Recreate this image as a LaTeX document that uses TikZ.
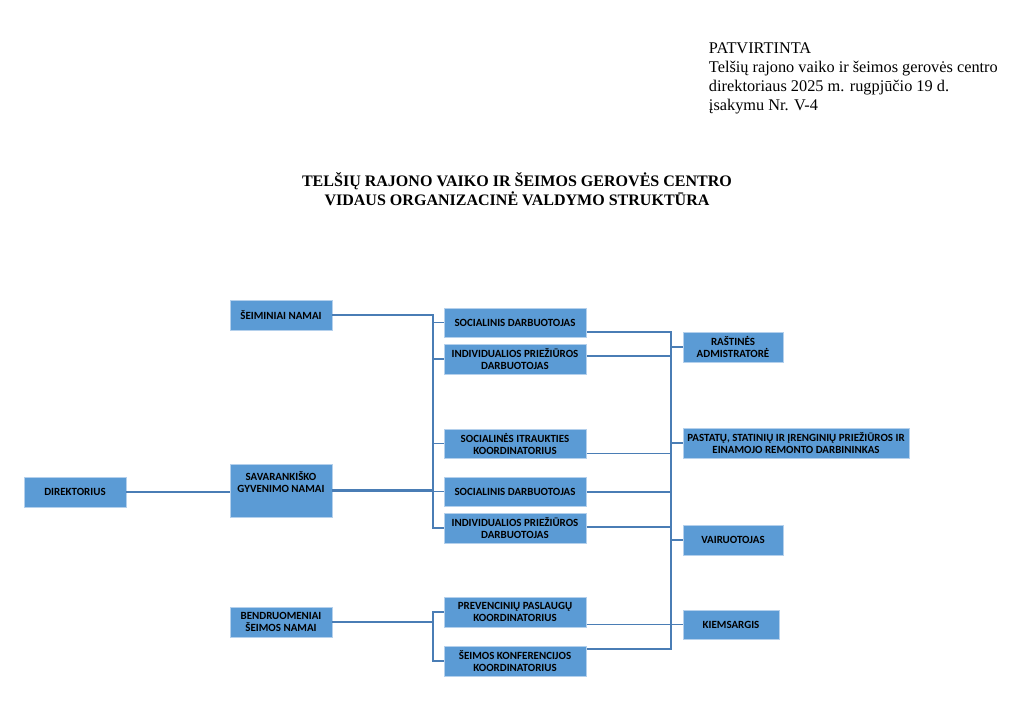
\documentclass[tikz,border=0pt]{standalone}
\usepackage{fontspec}
\setmainfont{Liberation Serif}
\newfontfamily\titlefont{Liberation Serif Bold}
\newfontfamily\boxfont{Carlito Bold}
\usetikzlibrary{calc}
\definecolor{boxblue}{HTML}{5B9BD5}
\definecolor{boxedge}{HTML}{B4D0EC}
\definecolor{linkblue}{HTML}{4A7DB5}
\begin{document}
\begin{tikzpicture}[x=0.025cm, y=-0.025cm,
	unit/.style 2 args={minimum width=#1*0.025cm, minimum height=#2*0.025cm},
	org/.style={draw=boxedge, line width=0.7pt, fill=boxblue, inner sep=0pt,
		align=center, font=\boxfont\fontsize{7.8}{8.6}\selectfont, text=black},
	link/.style={draw=linkblue, line width=1.15pt}]
\useasboundingbox[fill=white] (0,0) rectangle (1024,710);

\node[anchor=north west, align=left, font=\fontsize{11.6}{13.5}\selectfont] (head) at (704,38)
	{PATVIRTINTA\\Telšių rajono vaiko ir šeimos gerovės centro\\direktoriaus 2025 m. rugpjūčio 19 d.\\įsakymu Nr. V-4};
\node[align=center, font=\titlefont\fontsize{11.4}{13.5}\selectfont] (title) at (517,189)
	{TELŠIŲ RAJONO VAIKO IR ŠEIMOS GEROVĖS CENTRO\\VIDAUS ORGANIZACINĖ VALDYMO STRUKTŪRA};

\node[org, unit={102}{30}] (dir) at (75,492) {DIREKTORIUS};
\node[org, unit={102}{30}] (seim) at (281,315) {ŠEIMINIAI NAMAI};
\node[org, unit={102}{53}] (sav) at (281,490.5) {SAVARANKIŠKO\\GYVENIMO NAMAI\\[3.4pt]};
\node[org, unit={102}{30}] (bend) at (281,622) {BENDRUOMENIAI\\ŠEIMOS NAMAI};

\node[org, unit={142}{29}] (soc1) at (515,322.5) {SOCIALINIS DARBUOTOJAS};
\node[org, unit={142}{30}] (ind1) at (515,359) {INDIVIDUALIOS PRIEŽIŪROS\\DARBUOTOJAS};
\node[org, unit={142}{29}] (itr) at (515,443.5) {SOCIALINĖS ITRAUKTIES\\KOORDINATORIUS};
\node[org, unit={142}{29}] (soc2) at (515,491.5) {SOCIALINIS DARBUOTOJAS};
\node[org, unit={142}{30}] (ind2) at (515,528) {INDIVIDUALIOS PRIEŽIŪROS\\DARBUOTOJAS};
\node[org, unit={142}{30}] (prev) at (515,612) {PREVENCINIŲ PASLAUGŲ\\KOORDINATORIUS};
\node[org, unit={142}{30}] (konf) at (515,661) {ŠEIMOS KONFERENCIJOS\\KOORDINATORIUS};

\node[org, unit={100}{30}] (rast) at (733,347) {RAŠTINĖS\\ADMISTRATORĖ};
\node[org, unit={226}{30}] (past) at (796,443) {PASTATŲ, STATINIŲ IR ĮRENGINIŲ PRIEŽIŪROS IR\\EINAMOJO REMONTO DARBININKAS};
\node[org, unit={100}{30}] (vair) at (733,540) {VAIRUOTOJAS};
\node[org, unit={96}{29}] (kiem) at (731,624.5) {KIEMSARGIS};

\coordinate (lbus) at (433,0);
\coordinate (rbus) at (671,0);

\draw[link] (dir.east) -- (dir.east -| sav.west);
\draw[link] (seim.east) -| (lbus |- ind2.west) -- (ind2.west);
\draw[link, line width=1.7pt] (sav.east) -- (lbus |- sav.east);
\foreach \n in {soc1, ind1, itr, soc2}
{
	\draw[link] (lbus |- \n.west) -- (\n.west);
}
\draw[link] (bend.east) -- (lbus |- bend.east);
\draw[link] (prev.west) -- (lbus |- prev.west) -- (lbus |- konf.west) -- (konf.west);

\path ($(soc1.east)+(0,9.5)$) coordinate (r1) ($(konf.east)+(0,-12)$) coordinate (r7);
\draw[link] (r1) -| (r7 -| rbus) -- (r7);
\foreach \n/\d in {ind1/-3, itr/10, soc2/0.5, ind2/-1}
{
	\draw[link] ($(\n.east)+(0,\d)$) coordinate (p) -- (p -| rbus);
}
\draw[link] ($(prev.east)+(0,12.5)$) -- (kiem.west);
\foreach \n in {rast, past, vair}
{
	\draw[link] (rbus |- \n.west) -- (\n.west);
}
\end{tikzpicture}
\end{document}
